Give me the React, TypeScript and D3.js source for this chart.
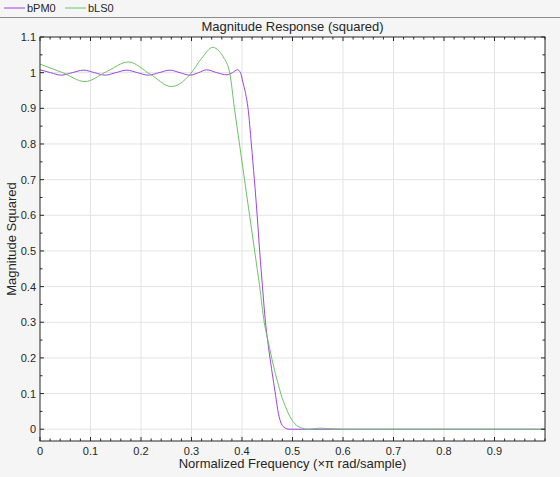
import { useMemo } from "react";
import * as d3 from "d3";

const W = 560;
const H = 477;
const M = { left: 40, right: 15, top: 37, bottom: 36 };

// normalized frequency / magnitude squared
const freqPM = [
  0, 0.021, 0.042, 0.064, 0.086, 0.108, 0.129, 0.15, 0.172, 0.193, 0.214, 0.236,
  0.257, 0.277, 0.297, 0.314, 0.33, 0.35, 0.37, 0.381, 0.391, 0.397, 0.402, 0.407,
  0.412, 0.4185, 0.4245, 0.43, 0.435, 0.4405, 0.4465, 0.4525, 0.4585, 0.4665,
  0.472, 0.478, 0.485, 0.493, 0.6, 0.8, 1.0,
];
const magPM = [
  1.008, 1.0, 0.993, 1.0, 1.007, 1.0, 0.993, 1.0, 1.007, 1.0, 0.993, 1.0,
  1.007, 1.0, 0.993, 1.0, 1.008, 1.0, 0.994, 1.0, 1.008, 1.0, 0.972, 0.942,
  0.9, 0.8, 0.7, 0.6, 0.5, 0.4, 0.3, 0.23, 0.17, 0.095,
  0.045, 0.015, 0.004, 0.0, 0.0, 0.0, 0.0,
];

const freqLS = [
  0, 0.045, 0.089, 0.132, 0.175, 0.218, 0.26, 0.277, 0.297, 0.32, 0.342, 0.355,
  0.363, 0.376, 0.385, 0.395, 0.405, 0.415, 0.425, 0.435, 0.444, 0.452, 0.462,
  0.47, 0.479, 0.487, 0.495, 0.505, 0.517, 0.53, 0.555, 0.6, 0.8, 1.0,
];
const magLS = [
  1.024, 1.0, 0.975, 1.003, 1.03, 0.996, 0.961, 0.969, 0.995, 1.04, 1.071, 1.06,
  1.044, 0.997, 0.9, 0.8, 0.7, 0.6, 0.5, 0.4, 0.3, 0.245, 0.18,
  0.135, 0.09, 0.06, 0.035, 0.015, 0.004, 0.0, 0.003, 0.0, 0.0, 0.0,
];

const xTicks = [0, 0.1, 0.2, 0.3, 0.4, 0.5, 0.6, 0.7, 0.8, 0.9];
const yTicks = [0, 0.1, 0.2, 0.3, 0.4, 0.5, 0.6, 0.7, 0.8, 0.9, 1, 1.1];

const series = [
  { name: "bPM0", color: "#9b44e6", f: freqPM, m: magPM },
  { name: "bLS0", color: "#6cc464", f: freqLS, m: magLS },
];

const FONT = "Liberation Sans, Arial, sans-serif";

export default function App() {
  const x = d3.scaleLinear().domain([0, 1]).range([M.left, W - M.right]);
  const y = d3.scaleLinear().domain([-0.033, 1.1]).range([H - M.bottom, M.top]);

  const paths = useMemo(() => {
    const line = d3
      .line<number>()
      .curve(d3.curveMonotoneX);
    return series.map((s) =>
      line
        .x((_, i) => x(s.f[i]))
        .y((v) => y(v))(s.m)
    );
  }, []);

  const x0 = x.range()[0];
  const x1 = x.range()[1];
  const y0 = y.range()[0];
  const y1 = y.range()[1];
  const xMinor = d3.range(0, 1.0001, 0.02);
  const yMinor = d3.range(0, 1.1001, 0.05);
  const tl = 4;
  const tm = 2.5;

  return (
    <svg
      width={W}
      height={H}
      style={{ position: "fixed", left: 0, top: 0, background: "#f5f5f5" }}
      fontFamily={FONT}
    >
      {/* legend */}
      <g fontSize={11} fill="#262626">
        {series.map((s, i) => (
          <g key={s.name} transform={`translate(${4 + i * 61},8)`}>
            <line x1={0} x2={21} y1={0} y2={0} stroke={s.color} strokeWidth={1} />
            <text x={23} y={4}>{s.name}</text>
          </g>
        ))}
      </g>
      <line x1={0} x2={W} y1={17.5} y2={17.5} stroke="#8c8c8c" strokeWidth={1} />

      <text x={(x0 + x1) / 2} y={31} textAnchor="middle" fontSize={13} fill="#262626">
        Magnitude Response (squared)
      </text>

      <rect x={x0} y={y1} width={x1 - x0} height={y0 - y1} fill="#fff" />

      {/* grid */}
      <g stroke="#e3e3e3" strokeWidth={1}>
        {xTicks.slice(1).map((t) => (
          <line key={t} x1={x(t)} x2={x(t)} y1={y1} y2={y0} />
        ))}
        {yTicks.slice(0, -1).map((t) => (
          <line key={t} x1={x0} x2={x1} y1={y(t)} y2={y(t)} />
        ))}
      </g>

      <defs>
        <clipPath id="plot">
          <rect x={x0} y={y1} width={x1 - x0} height={y0 - y1} />
        </clipPath>
      </defs>
      <g clipPath="url(#plot)" fill="none" strokeWidth={1}>
        {paths.map((d, i) => (
          <path key={i} d={d ?? ""} stroke={series[i].color} />
        ))}
      </g>

      {/* ticks */}
      <g stroke="#262626" strokeWidth={1}>
        {xMinor.map((t) => {
          const major = xTicks.some((m) => Math.abs(m - t) < 1e-6);
          const l = major ? tl : tm;
          return (
            <g key={t}>
              <line x1={x(t)} x2={x(t)} y1={y0} y2={y0 - l} />
              <line x1={x(t)} x2={x(t)} y1={y1} y2={y1 + l} />
            </g>
          );
        })}
        {yMinor.map((t) => {
          const major = yTicks.some((m) => Math.abs(m - t) < 1e-6);
          const l = major ? tl : tm;
          return (
            <g key={t}>
              <line x1={x0} x2={x0 + l} y1={y(t)} y2={y(t)} />
              <line x1={x1} x2={x1 - l} y1={y(t)} y2={y(t)} />
            </g>
          );
        })}
      </g>
      <rect
        x={x0}
        y={y1}
        width={x1 - x0}
        height={y0 - y1}
        fill="none"
        stroke="#262626"
        strokeWidth={1}
      />

      <g fontSize={11} fill="#262626">
        {xTicks.map((t) => (
          <text key={t} x={x(t)} y={y0 + 14} textAnchor="middle">
            {d3.format("~g")(t)}
          </text>
        ))}
        {yTicks.map((t) => (
          <text key={t} x={x0 - 4} y={y(t) + 4} textAnchor="end">
            {d3.format("~g")(t)}
          </text>
        ))}
      </g>

      <text x={(x0 + x1) / 2} y={468} textAnchor="middle" fontSize={13} fill="#262626">
        Normalized Frequency (×π rad/sample)
      </text>
      <text
        transform={`translate(16,${(y0 + y1) / 2}) rotate(-90)`}
        textAnchor="middle"
        fontSize={13}
        fill="#262626"
      >
        Magnitude Squared
      </text>
    </svg>
  );
}
